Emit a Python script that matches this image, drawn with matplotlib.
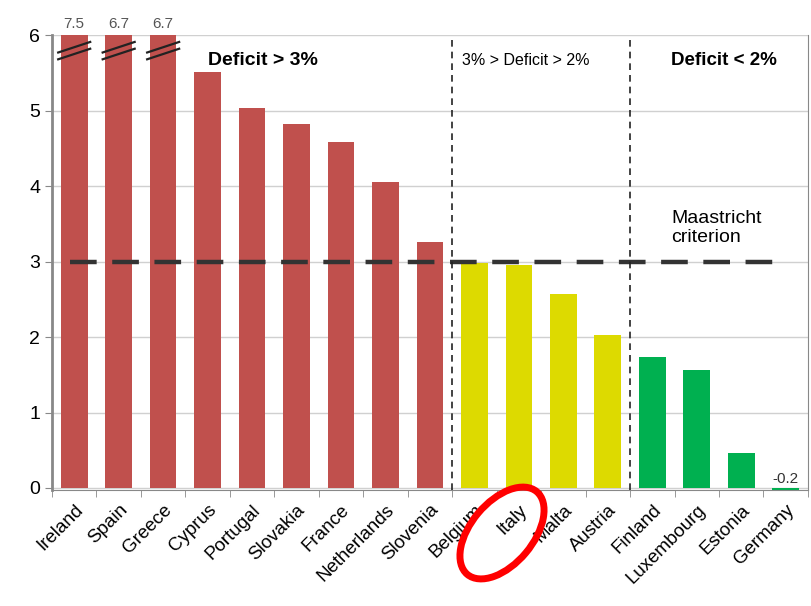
import matplotlib.pyplot as plt
import numpy as np
from matplotlib.patches import Ellipse

plt.rcParams['font.family'] = ['Liberation Sans', 'DejaVu Sans']

countries = ['Ireland', 'Spain', 'Greece', 'Cyprus', 'Portugal', 'Slovakia', 'France',
             'Netherlands', 'Slovenia', 'Belgium', 'Italy', 'Malta', 'Austria',
             'Finland', 'Luxembourg', 'Estonia', 'Germany']
deficit = [7.5, 6.7, 6.7, 5.51, 5.03, 4.82, 4.59, 4.06, 3.26, 2.98, 2.95, 2.57, 2.03,
           1.73, 1.56, 0.47, -0.2]
groups = ['hi'] * 9 + ['mid'] * 4 + ['lo'] * 4
colours = {'hi': '#C0504D', 'mid': '#DDDA00', 'lo': '#00B050'}
criterion = 3
ymax = 6

fig = plt.figure(figsize=(8.12, 6.06), dpi=100)
ax = fig.add_axes([0.064, 0.191, 0.931, 0.751])

x = np.arange(len(countries))
shown = [min(v, ymax) for v in deficit]
ax.bar(x, shown, width=0.6, color=[colours[g] for g in groups], zorder=2)

# values above the clipped bars + break marks
for i, v in enumerate(deficit):
    if v > ymax:
        ax.text(i, ymax + 0.05, f'{v:.1f}', ha='center', va='bottom', fontsize=11, color='#555555')
        for dy in (0, 0.09):
            ax.plot([i - 0.36, i + 0.36], [5.68 + dy, 5.82 + dy], color='#222222', lw=1.6,
                    zorder=3, clip_on=False)
ax.text(len(x) - 1, 0.03, f'{deficit[-1]:.1f}', ha='center', va='bottom', fontsize=11, color='#333333')

ax.set_xlim(-0.5, len(x) - 0.5)
ax.set_ylim(-0.03, ymax)
ax.set_yticks(range(0, 7))
ax.tick_params(axis='y', labelsize=14, length=5, color='#888888')
ax.grid(axis='y', color='#d0d0d0', lw=1, zorder=0)

ax.set_xticks(x)
ax.set_xticklabels(countries, rotation=45, ha='right', rotation_mode='anchor', fontsize=13.5)
ax.tick_params(axis='x', length=0, pad=8)
ax.set_xticks(np.arange(-0.5, len(x)), minor=True)
ax.tick_params(axis='x', which='minor', length=5, color='#888888')

for s in ['left', 'right', 'bottom']:
    ax.spines[s].set_color('#888888')
ax.spines['left'].set_linewidth(2)
ax.spines['top'].set_visible(False)

ax.plot([-0.1, 15.9], [criterion, criterion], ls=(0, (6, 3.5)), color='#333333', lw=3.2, zorder=3)
ax.axvline(8.5, color='#222222', ls=(0, (4, 3)), lw=1.2, zorder=3)
ax.axvline(12.5, color='#222222', ls=(0, (4, 3)), lw=1.2, zorder=3)

ax.text(3.0, 5.67, 'Deficit > 3%', fontsize=14, fontweight='bold', va='center')
ax.text(8.72, 5.67, '3% > Deficit > 2%', fontsize=11.5, va='center')
ax.text(13.42, 5.67, 'Deficit < 2%', fontsize=13.5, fontweight='bold', va='center')
ax.text(13.42, 3.45, 'Maastricht\ncriterion', fontsize=14, linespacing=1.15, va='center')

fig.patches.append(Ellipse((5.02, (606 - 533) / 100), 1.08, 0.62, angle=50,
                           transform=fig.dpi_scale_trans, fill=False, ec='#ff0000', lw=5))

fig.savefig('out.png')
